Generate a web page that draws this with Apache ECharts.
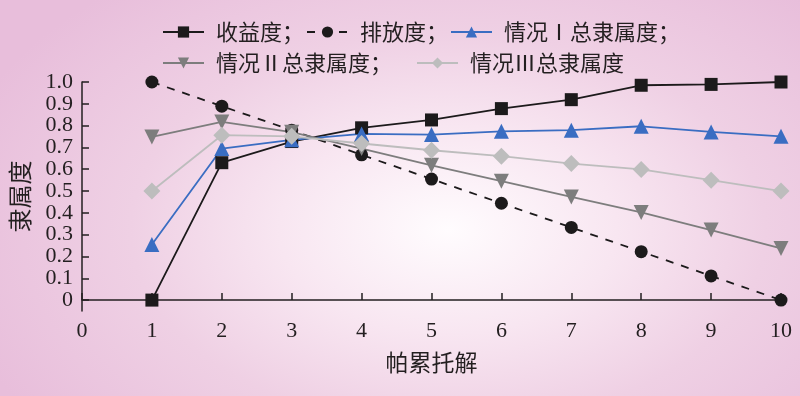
<!DOCTYPE html>
<html>
<head>
<meta charset="utf-8">
<script src="https://cdn.jsdelivr.net/npm/echarts@6/dist/echarts.min.js"></script>
<style>
html,body{margin:0;padding:0;}
#chart{width:800px;height:396px;background:radial-gradient(ellipse 64% 80% at 56% 58%, #fffcfe 0%, #f8e6f1 33%, #efd0e4 62%, #e8bedb 100%);}
</style>
</head>
<body>
<div id="chart"></div>
<script>
const categories = [1, 2, 3, 4, 5, 6, 7, 8, 9, 10];
const income = [0, 0.63, 0.727, 0.79, 0.826, 0.878, 0.919, 0.985, 0.989, 1.0];
const emission = [1.0, 0.889, 0.779, 0.666, 0.555, 0.444, 0.333, 0.222, 0.111, 0];
const case1 = [0.255, 0.695, 0.735, 0.762, 0.759, 0.774, 0.779, 0.797, 0.771, 0.751];
const case2 = [0.748, 0.817, 0.77, 0.695, 0.618, 0.545, 0.473, 0.402, 0.321, 0.237];
const case3 = [0.5, 0.756, 0.751, 0.718, 0.687, 0.66, 0.626, 0.599, 0.55, 0.5];
const yTicks = [0, 0.1, 0.2, 0.3, 0.4, 0.5, 0.6, 0.7, 0.8, 0.9, 1.0];
const seriesNames = ['收益度', '排放度', '情况Ⅰ总隶属度', '情况Ⅱ总隶属度', '情况Ⅲ总隶属度'];

const pairs = arr => categories.map((c, i) => [c, arr[i]]);
const txt = '#231f20';
const cjk = "'Noto Sans CJK SC', sans-serif";
const serif = "'Liberation Serif', 'DejaVu Serif', serif";

const chart = echarts.init(document.getElementById('chart'), null, {renderer: 'canvas'});
const legendCommon = {
  orient: 'horizontal',
  left: 157,
  itemWidth: 41,
  itemHeight: 14,
  textStyle: {fontFamily: cjk, fontSize: 22, color: txt, padding: [0, 0, 0, 7]},
  formatter: n => n === '情况Ⅲ总隶属度' ? n : n + '；'
};
chart.setOption({
  backgroundColor: 'transparent',
  animation: false,
  legend: [
    Object.assign({}, legendCommon, {top: 16, itemGap: 2, data: seriesNames.slice(0, 3)}),
    Object.assign({}, legendCommon, {top: 47, itemGap: 24, data: seriesNames.slice(3)})
  ],
  grid: {left: 81, right: 19, top: 82, bottom: 85, containLabel: false},
  xAxis: {
    type: 'value', min: 0, max: 10, interval: 1,
    name: '帕累托解', nameLocation: 'middle', nameGap: 40,
    nameTextStyle: {fontFamily: cjk, fontSize: 23, color: txt},
    axisLine: {show: true, lineStyle: {color: txt, width: 1.5}},
    axisTick: {show: true, inside: true, length: 7, lineStyle: {color: txt, width: 1.5}},
    axisLabel: {fontFamily: serif, fontSize: 22, color: txt, margin: 9, showMinLabel: true, showMaxLabel: true},
    splitLine: {show: false}
  },
  yAxis: {
    type: 'value', min: -0.05, max: 1.0,
    name: '隶属度', nameLocation: 'middle', nameGap: 50, nameRotate: 90,
    nameTextStyle: {fontFamily: cjk, fontSize: 24, color: txt},
    axisLine: {show: true, lineStyle: {color: txt, width: 1.5}},
    axisTick: {show: true, inside: true, length: 7, customValues: yTicks, lineStyle: {color: txt, width: 1.5}},
    axisLabel: {fontFamily: serif, fontSize: 22, lineHeight: 20, color: txt, margin: 9, customValues: yTicks,
      showMinLabel: true, showMaxLabel: true, hideOverlap: false,
      formatter: v => Math.abs(v) < 1e-9 ? '0' : v.toFixed(1)},
    splitLine: {show: false}
  },
  series: [
    {name: seriesNames[0], type: 'line', data: pairs(income), symbol: 'rect', symbolSize: 13,
      itemStyle: {color: '#1c1a1b'}, lineStyle: {color: '#1c1a1b', width: 1.8}},
    {name: seriesNames[1], type: 'line', data: pairs(emission), symbol: 'circle', symbolSize: 13,
      itemStyle: {color: '#1c1a1b'}, lineStyle: {color: '#1c1a1b', width: 1.8, type: [8, 8]}},
    {name: seriesNames[2], type: 'line', data: pairs(case1), symbol: 'triangle', symbolSize: 15,
      itemStyle: {color: '#3a6dc2'}, lineStyle: {color: '#3a6dc2', width: 1.8}},
    {name: seriesNames[3], type: 'line', data: pairs(case2), symbol: 'triangle', symbolRotate: 180, symbolSize: 15,
      itemStyle: {color: '#7d7d7d'}, lineStyle: {color: '#7d7d7d', width: 1.8}},
    {name: seriesNames[4], type: 'line', data: pairs(case3), symbol: 'diamond', symbolSize: 17,
      itemStyle: {color: '#bdbdbd'}, lineStyle: {color: '#bdbdbd', width: 1.8}}
  ]
});
</script>
</body>
</html>
